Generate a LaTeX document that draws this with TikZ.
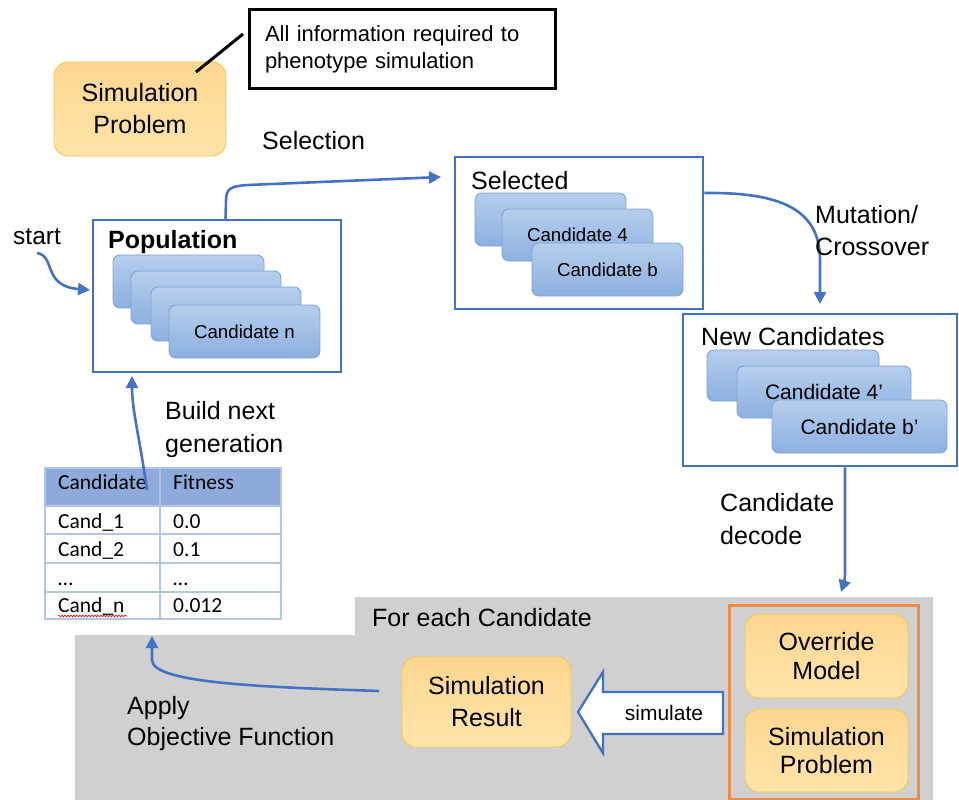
\documentclass[tikz,border=0pt]{standalone}
\usepackage{fontspec}
\setmainfont{Liberation Sans}
\newfontfamily\calib{Carlito}
\usetikzlibrary{arrows.meta,decorations.pathmorphing,calc}
\definecolor{bl}{HTML}{4472C4}
\definecolor{cardb}{HTML}{7DA3D6}
\definecolor{cardt}{HTML}{B6CEED}
\definecolor{cardbot}{HTML}{8CB0E0}
\definecolor{oborder}{HTML}{F5C64A}
\definecolor{otop}{HTML}{FDD690}
\definecolor{obot}{HTML}{FFE4AA}
\definecolor{graybg}{HTML}{D0D0D0}
\definecolor{orangeb}{HTML}{ED8B45}
\definecolor{thead}{HTML}{8EAADB}
\definecolor{tgrid}{HTML}{B4C6E7}
\newcommand{\rnode}[7]{\node[#1, minimum width={#4-#2}, minimum height={#5-#3}] (#6) at ({(#2+#4)/2},{(#3+#5)/2}) {#7};}
\begin{document}
\begin{tikzpicture}[x=1pt,y=-1pt,
  arr/.style={draw=bl, line width=2.6pt, -{Triangle[length=12pt,width=12pt]}},
  bbox/.style={draw=bl, line width=2.5pt, fill=white, inner sep=0},
  card/.style={draw=cardb, line width=0.9pt, rounded corners=7pt, top color=cardt, bottom color=cardbot, inner sep=0},
  obox/.style={draw=oborder, line width=0.9pt, rounded corners=14pt, top color=otop, bottom color=obot, inner sep=0, align=center},
  lbl/.style={inner sep=0, align=left, anchor=west, font=\fontsize{25}{32}\selectfont},
  tc/.style={inner sep=0, anchor=base west, font=\calib\fontsize{21.5}{24}\selectfont}
]
\useasboundingbox (0,0) rectangle (959,800);
% gray background region
\fill[graybg] (75,800) -- (75,635) -- (355,635) -- (355,597) -- (933,597) -- (933,800) -- cycle;

% top-left
\rnode{obox, font=\fontsize{25}{32}\selectfont}{54}{62}{226}{156}{sp}{Simulation\\Problem}
\rnode{draw=black, line width=3pt, inner sep=0, align=left, text width=274pt, font=\fontsize{22}{27}\selectfont}{249}{10}{555}{89}{note}{All information required to\\phenotype simulation}
\coordinate (nA) at (196,72);
\coordinate (nB) at (243,34);
\draw[line width=3pt] (nA) -- (nB);

% population
\rnode{bbox}{93}{220}{341}{372}{pop}{}
\node[lbl, font=\bfseries\fontsize{25}{30}\selectfont] (poplbl) at (108,242) {Population};
\rnode{card}{113}{255}{264}{308}{p1}{}
\rnode{card}{131}{271}{281}{324}{p2}{}
\rnode{card}{151}{287}{301}{341}{p3}{}
\rnode{card, font=\fontsize{18.7}{22}\selectfont}{169}{305}{320}{358}{p4}{Candidate n}

\node[lbl, font=\fontsize{24.5}{30}\selectfont] (startlbl) at (13,237) {start};
\coordinate (st0) at (37,253);
\coordinate (popstart) at (90,290);
\draw[arr] (st0) .. controls (56,256) and (42,286) .. (popstart);

% selection
\node[lbl] (sellbl) at (262,141) {Selection};
\coordinate (selin) at (441,177);
\draw[arr] ([xshift=8.5pt]pop.north) -- (226,200) .. controls (226,188) and (232,186) .. (248,185) -- (selin);

% selected
\rnode{bbox}{455}{157}{703}{309}{sel}{}
\node[lbl] (seltitle) at (471,181) {Selected};
\rnode{card}{475}{193}{626}{246}{s1}{}
\rnode{card, font=\fontsize{18.7}{22}\selectfont}{502}{209}{653}{261}{s2}{Candidate 4}
\rnode{card, font=\fontsize{18.7}{22}\selectfont}{532}{243}{683}{296}{s3}{Candidate b}

% mutation arrow
\coordinate (newin) at (820,304);
\draw[arr] ([yshift=40pt]sel.east) .. controls (782,192) and (820,210) .. (820,260) -- (newin);
\node[lbl] (mutlbl) at (815,231) {Mutation/\\Crossover};

% new candidates
\rnode{bbox}{683}{314}{957}{466}{new}{}
\node[lbl] (newtitle) at (701,337) {New Candidates};
\rnode{card}{707}{350}{879}{401}{n1}{}
\rnode{card, font=\fontsize{21}{25}\selectfont}{737}{366}{911}{418}{n2}{Candidate 4’}
\rnode{card, font=\fontsize{21}{25}\selectfont}{772}{400}{947}{453}{n3}{Candidate b’}

% decode arrow
\coordinate (ovin) at (841,592);
\draw[arr] ([xshift=25pt]new.south) -- (845,572) .. controls (845,582) and (843,586) .. (ovin);
\node[lbl, font=\fontsize{25}{33}\selectfont] (declbl) at (720,519.5) {Candidate\\decode};

% for each candidate
\node[lbl] (forlbl) at (372,618) {For each Candidate};
\rnode{draw=orangeb, line width=3pt, inner sep=0}{729}{605}{918}{799}{ogrp}{}
\rnode{obox, font=\fontsize{25}{29}\selectfont}{745}{614}{908}{698}{ovr}{Override\\Model}
\rnode{obox, font=\fontsize{25}{28}\selectfont}{745}{709}{908}{792}{sp2}{Simulation\\Problem}
\rnode{obox, font=\fontsize{25}{32}\selectfont}{402}{657}{571}{747}{sres}{Simulation\\Result}

% simulate block arrow
\draw[draw=bl, line width=2.4pt, fill=white, line join=miter] (578,712) -- (603,672) -- (603,692) -- (723,692) -- (723,734) -- (603,734) -- (603,753) -- cycle;
\node[inner sep=0, font=\fontsize{21}{25}\selectfont] (simlbl) at (664,713) {simulate};

% objective arrow
\coordinate (objst) at (379,691);
\coordinate (tblin) at (152,636);
\draw[arr] (objst) .. controls (260,687) and (152,683) .. (152,660) -- (tblin);
\node[lbl, font=\fontsize{25}{31}\selectfont] (applbl) at (127,723.5) {Apply\\Objective Function};

% table
\fill[thead] (45,468) rectangle (281,506);
\draw[tgrid, line width=1.2pt] (45,468) rectangle (281,619);
\foreach \yy in {506,534,563,592} \draw[tgrid, line width=1.2pt] (45,\yy) -- (281,\yy);
\draw[tgrid, line width=1.2pt] (160,468) -- (160,619);
\node[tc] (h1) at (58,489) {Candidate};
\node[tc] (h2) at (173,489) {Fitness};
\node[tc] (r1a) at (58,528) {Cand\_1};
\node[tc] (r1b) at (173,528) {0.0};
\node[tc] (r2a) at (58,556) {Cand\_2};
\node[tc] (r2b) at (173,556) {0.1};
\node[tc] (r3a) at (58,585) {…};
\node[tc] (r3b) at (173,585) {…};
\node[tc] (r4a) at (58,612) {Cand\_n};
\node[tc] (r4b) at (173,612) {0.012};
\coordinate (wv0) at (58,616);
\coordinate (wv1) at (127,616);
\draw[red, line width=0.6pt, decorate, decoration={snake, amplitude=0.9pt, segment length=3pt}] (wv0) -- (wv1);

% build next generation
\coordinate (bn0) at (147,490);
\coordinate (popin) at (132,376);
\draw[arr] (bn0) .. controls (140,440) and (132,410) .. (popin);
\node[lbl, font=\fontsize{25}{33}\selectfont] (bnlbl) at (165,429.5) {Build next\\generation};
\end{tikzpicture}
\end{document}
